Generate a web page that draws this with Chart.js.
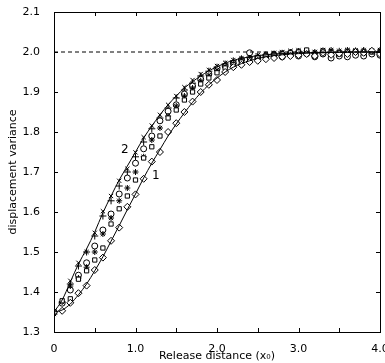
<!DOCTYPE html>
<html>
<head>
<meta charset="utf-8">
<script src="https://cdn.jsdelivr.net/npm/chart.js@4/dist/chart.umd.min.js"></script>
<style>
  body { margin: 0; background: #fff; }
  canvas { display: block; }
</style>
</head>
<body>
<canvas id="myChart" width="385" height="363"></canvas>
<script>
// release distance, step 0.1
const xs = [0.0,0.1,0.2,0.3,0.4,0.5,0.6,0.7,0.8,0.9,1.0,1.1,1.2,1.3,1.4,1.5,1.6,1.7,1.8,1.9,2.0,
            2.1,2.2,2.3,2.4,2.5,2.6,2.7,2.8,2.9,3.0,3.1,3.2,3.3,3.4,3.5,3.6,3.7,3.8,3.9,4.0];

// theory curves
const curve1 = [1.350,1.355,1.370,1.393,1.420,1.453,1.488,1.527,1.566,1.606,1.645,1.685,1.722,1.756,1.790,1.820,1.848,1.874,1.898,1.918,1.935,
                1.950,1.962,1.971,1.978,1.984,1.988,1.991,1.993,1.995,1.996,1.997,1.998,1.998,1.999,1.999,1.999,2.000,2.000,2.000,2.000];
const curve2 = [1.350,1.380,1.425,1.470,1.508,1.550,1.598,1.640,1.680,1.715,1.750,1.785,1.815,1.843,1.868,1.890,1.910,1.926,1.940,1.953,1.963,
                1.972,1.979,1.984,1.988,1.991,1.993,1.995,1.996,1.997,1.998,1.998,1.999,1.999,1.999,2.000,2.000,2.000,2.000,2.000,2.000];

// simulation series
const diamonds = [1.350,1.353,1.373,1.397,1.416,1.455,1.486,1.528,1.561,1.613,1.644,1.683,1.726,1.750,1.800,1.822,1.850,1.876,1.900,1.918,1.930,
                  1.950,1.962,1.968,1.975,1.978,1.982,1.985,1.988,1.990,1.992,1.995,1.990,1.998,1.993,1.996,1.995,2.000,1.998,2.003,1.995];
const squares  = [1.350,1.378,1.383,1.432,1.453,1.480,1.510,1.570,1.608,1.640,1.680,1.735,1.763,1.790,1.835,1.855,1.880,1.900,1.920,1.935,1.948,
                  1.960,1.968,1.975,1.980,1.985,1.990,1.992,1.995,1.998,2.000,2.005,1.990,2.002,1.998,1.995,2.000,2.002,1.998,2.000,1.998];
const stars    = [1.350,1.375,1.415,1.435,1.462,1.500,1.545,1.585,1.628,1.660,1.700,1.738,1.780,1.810,1.840,1.865,1.890,1.910,1.928,1.942,1.955,
                  1.965,1.972,1.980,1.985,1.988,1.992,1.995,1.998,2.000,2.002,2.003,2.000,2.004,2.005,2.003,2.005,2.004,2.005,2.004,2.005];
const circles  = [1.350,1.372,1.405,1.442,1.473,1.515,1.555,1.595,1.645,1.685,1.722,1.758,1.790,1.828,1.852,1.868,1.895,1.915,1.932,1.945,1.958,
                  1.965,1.972,1.980,1.998,1.985,1.990,1.993,1.988,1.995,1.990,1.996,1.988,1.995,1.985,1.990,1.988,1.992,1.990,1.995,1.992];
const pluses   = [1.345,1.375,1.420,1.465,1.500,1.540,1.590,1.628,1.665,1.700,1.738,1.775,1.808,1.835,1.860,1.885,1.905,1.922,1.940,1.952,1.962,
                  1.970,1.978,1.983,1.987,1.990,1.993,1.995,1.996,1.998,2.000,1.998,1.996,2.000,1.998,1.996,2.000,1.998,2.002,2.000,2.000];
const crosses  = [1.345,1.378,1.428,1.473,1.500,1.548,1.602,1.640,1.678,1.708,1.749,1.787,1.816,1.843,1.868,1.890,1.912,1.930,1.945,1.955,1.965,
                  1.973,1.980,1.985,1.988,1.992,1.995,1.998,2.000,2.003,2.005,2.002,2.000,2.005,2.002,2.000,2.004,2.000,2.002,2.000,2.002];

const limitValue = 2.0;
const xTicks = [0,0.5,1.0,1.5,2.0,2.5,3.0,3.5,4.0];
const xTickLabels = ['0','','1.0','','2.0','','3.0','','4.0'];
const yTicks = [1.3,1.4,1.5,1.6,1.7,1.8,1.9,2.0,2.1];
const yTickLabels = ['1.3','1.4','1.5','1.6','1.7','1.8','1.9','2.0','2.1'];
const curveLabels = [{ text: '1', x: 1.25, y: 1.69 }, { text: '2', x: 0.87, y: 1.755 }];

const pts = arr => xs.map((x, i) => ({ x: x, y: arr[i] }));

function markerSet(label, arr, style, radius, fill) {
  return {
    label: label,
    data: pts(arr),
    showLine: false,
    pointStyle: style,
    pointRadius: radius,
    pointBorderColor: '#000',
    pointBackgroundColor: fill ? '#fff' : '#000',
    pointBorderWidth: 1
  };
}

function lineSet(label, arr) {
  return {
    label: label,
    data: pts(arr),
    showLine: true,
    borderColor: '#000',
    borderWidth: 1,
    pointRadius: 0,
    tension: 0.4,
    cubicInterpolationMode: 'monotone',
    fill: false
  };
}

const FONT = 'DejaVu Sans';

const framePlugin = {
  id: 'frame',
  beforeDraw(chart) {
    const c = chart.ctx;
    c.save();
    c.fillStyle = '#fff';
    c.fillRect(0, 0, chart.width, chart.height);
    c.restore();
  },
  afterDraw(chart) {
    const c = chart.ctx;
    const a = chart.chartArea;
    const sx = chart.scales.x, sy = chart.scales.y;
    c.save();
    c.strokeStyle = '#000';
    c.lineWidth = 1;
    c.strokeRect(Math.round(a.left) + 0.5, Math.round(a.top) + 0.5,
                 Math.round(a.right - a.left), Math.round(a.bottom - a.top));
    c.beginPath();
    xTicks.forEach(v => {
      const px = Math.round(sx.getPixelForValue(v)) + 0.5;
      c.moveTo(px, a.bottom); c.lineTo(px, a.bottom - 4);
      c.moveTo(px, a.top); c.lineTo(px, a.top + 4);
    });
    yTicks.forEach(v => {
      const py = Math.round(sy.getPixelForValue(v)) + 0.5;
      c.moveTo(a.left, py); c.lineTo(a.left + 4, py);
      c.moveTo(a.right, py); c.lineTo(a.right - 4, py);
    });
    c.stroke();
    c.fillStyle = '#000';
    c.font = '12px "' + FONT + '"';
    c.textAlign = 'center';
    c.textBaseline = 'middle';
    curveLabels.forEach(l => {
      c.fillText(l.text, sx.getPixelForValue(l.x), sy.getPixelForValue(l.y));
    });
    c.restore();
  }
};

new Chart(document.getElementById('myChart').getContext('2d'), {
  type: 'scatter',
  data: {
    datasets: [
      {
        label: 'limit',
        data: [{ x: 0, y: limitValue }, { x: 4, y: limitValue }],
        showLine: true,
        borderColor: '#000',
        borderWidth: 1,
        borderDash: [4, 3],
        pointRadius: 0
      },
      lineSet('1', curve1),
      lineSet('2', curve2),
      markerSet('diamond', diamonds, 'rectRot', 3.5, true),
      markerSet('square', squares, 'rect', 3, true),
      markerSet('star', stars, 'star', 3, false),
      markerSet('circle', circles, 'circle', 3, true),
      markerSet('plus', pluses, 'cross', 3.5, false),
      markerSet('cross', crosses, 'crossRot', 3, false)
    ]
  },
  options: {
    responsive: false,
    animation: false,
    layout: { padding: { top: 12, right: 4, left: 0, bottom: 0 } },
    plugins: { legend: { display: false }, tooltip: { enabled: false } },
    scales: {
      x: {
        type: 'linear',
        min: 0, max: 4,
        afterBuildTicks: s => { s.ticks = xTicks.map(v => ({ value: v })); },
        afterFit: s => { s.paddingLeft = 0; s.paddingRight = 0; s.height = 31; },
        grid: { display: false },
        border: { display: false },
        ticks: {
          color: '#000',
          font: { family: FONT, size: 11 },
          padding: 3,
          maxRotation: 0,
          autoSkip: false,
          callback: (v, i) => xTickLabels[i]
        },
        title: {
          display: true,
          text: 'Release distance (x\u2080)',
          color: '#000',
          font: { family: FONT, size: 11 },
          padding: { top: 0, bottom: 0 }
        }
      },
      y: {
        type: 'linear',
        min: 1.3, max: 2.1,
        afterBuildTicks: s => { s.ticks = yTicks.map(v => ({ value: v })); },
        afterFit: s => { s.width = 54; s.paddingTop = 0; s.paddingBottom = 0; },
        grid: { display: false },
        border: { display: false },
        ticks: {
          color: '#000',
          font: { family: FONT, size: 11 },
          padding: 6,
          autoSkip: false,
          callback: (v, i) => yTickLabels[i]
        },
        title: {
          display: true,
          text: 'displacement variance',
          color: '#000',
          font: { family: FONT, size: 11 },
          padding: { top: 7, bottom: 0 }
        }
      }
    }
  },
  plugins: [framePlugin]
});
</script>
</body>
</html>
